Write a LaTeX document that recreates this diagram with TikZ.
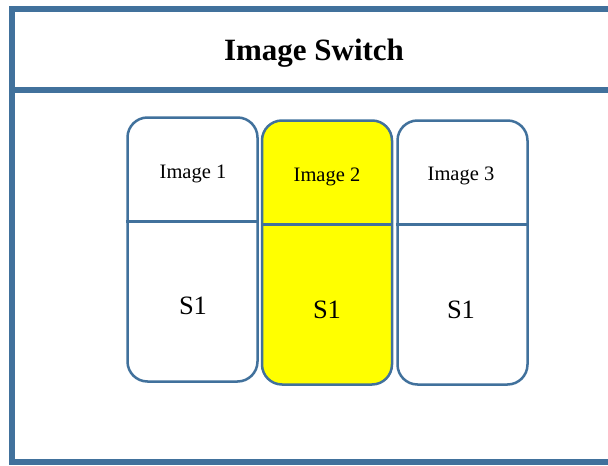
\documentclass[tikz,border=0pt]{standalone}
\usepackage{fontspec}
\setmainfont{Liberation Serif}
\usepackage{tikz}
\definecolor{frameblue}{RGB}{65,113,156}
\definecolor{selyellow}{RGB}{255,255,0}

\begin{document}
\begin{tikzpicture}[x=1pt, y=-1pt,
frame/.style={draw=frameblue, line width=6pt},
card/.style={rectangle, rounded corners=20pt, draw=frameblue, line width=2.5pt, fill=white, minimum width=130pt, minimum height=264pt, inner sep=0pt},
cardline/.style={draw=frameblue, line width=3pt},
imgtext/.style={font=\fontsize{20.5}{24}\selectfont},
stext/.style={font=\fontsize{26.5}{30}\selectfont}
]
\useasboundingbox (0,0) rectangle (608,466);
%Frame
\draw[frame] (12,9) rectangle (625,90);
\draw[frame] (12,90) rectangle (625,462);
\node (title) at (314,53) {\fontsize{31}{35}\selectfont\bfseries Image Switch};
%Cards
\node[card]                 (c1) at (192.5,249.5) {};
\node[card, fill=selyellow] (c2) at (327,252.5)   {};
\node[card]                 (c3) at (462.5,252.5) {};
%Lines
\draw[cardline] (c1.west |- 0,221) -- (c1.east |- 0,221);
\draw[cardline] (c2.west |- 0,224) -- (c2.east |- 0,224);
\draw[cardline] (c3.west |- 0,224) -- (c3.east |- 0,224);
%Labels
\node[imgtext] (i1) at (193,174) {Image 1};
\node[imgtext] (i2) at (327,177) {Image 2};
\node[imgtext] (i3) at (461,176) {Image 3};
\node[stext]   (s1) at (193,306) {S1};
\node[stext]   (s2) at (327,310) {S1};
\node[stext]   (s3) at (461,310) {S1};
\end{tikzpicture}
\end{document}
